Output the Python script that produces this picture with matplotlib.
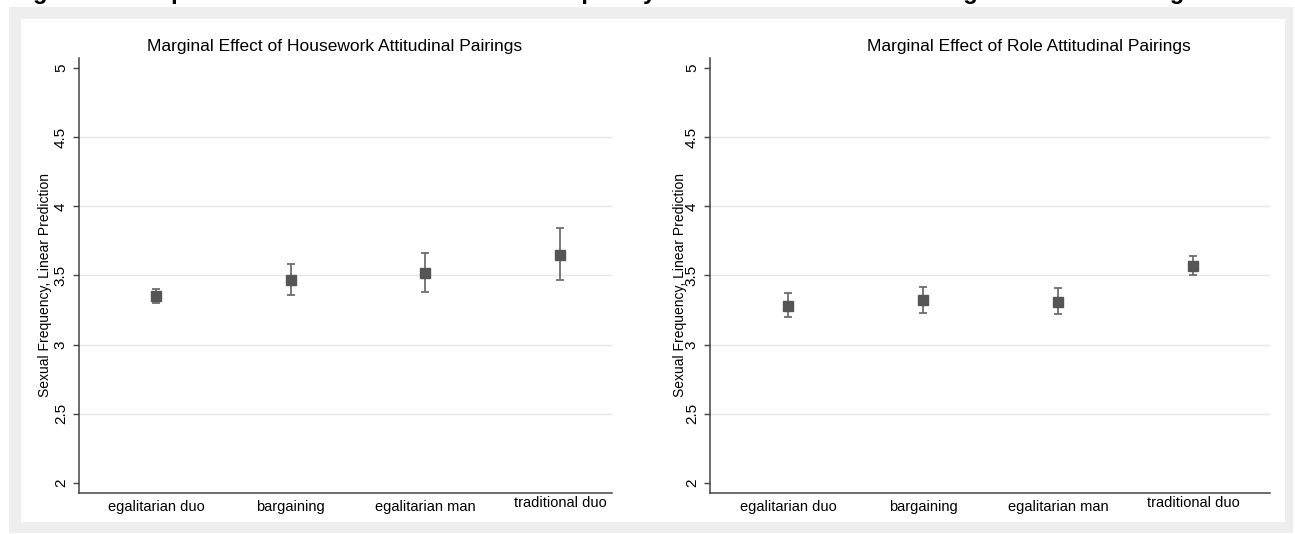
import matplotlib.pyplot as plt
from matplotlib.patches import Rectangle

plt.rcParams['font.family'] = ['Liberation Sans', 'DejaVu Sans']

# data
categories = ["egalitarian duo", "bargaining", "egalitarian man", "traditional duo"]

house_est = [3.35, 3.47, 3.52, 3.65]
house_lo = [3.30, 3.36, 3.38, 3.47]
house_hi = [3.40, 3.58, 3.66, 3.84]

role_est = [3.28, 3.32, 3.31, 3.57]
role_lo = [3.20, 3.23, 3.22, 3.50]
role_hi = [3.37, 3.42, 3.41, 3.64]

yticks = [2, 2.5, 3, 3.5, 4, 4.5, 5]
ytick_labels = ["2", "2.5", "3", "3.5", "4", "4.5", "5"]

W, H = 1295, 534
fig = plt.figure(figsize=(W / 100, H / 100), dpi=100)

# gray frame around the white panel
fig.patches.append(Rectangle((9 / W, 1 / H), 1284 / W, 526 / H, transform=fig.transFigure,
                             facecolor="#eeeeee", edgecolor="none", zorder=-5))
fig.patches.append(Rectangle((21 / W, 12 / H), 1264 / W, 503 / H, transform=fig.transFigure,
                             facecolor="white", edgecolor="none", zorder=-4))

# cut-off figure caption at the very top (only descenders show, as in the source)
fig.text(12 / W, 1 + 1.5 / H, "Figure 3: Comparison of the Estimated Sexual Frequency between Housework Pairings and Role Pairings",
         fontsize=17, fontweight="bold", va="baseline", ha="left")


def panel(rect, est, lo, hi, xlim, title, title_x, ylab_x):
    ax = fig.add_axes(rect)
    ax.set_facecolor("none")
    x = list(range(1, len(categories) + 1))
    yerr = [[e - l for e, l in zip(est, lo)], [h - e for e, h in zip(est, hi)]]
    ax.errorbar(x, est, yerr=yerr, fmt="none", ecolor="#6e6e6e", elinewidth=1.3,
                capsize=3, capthick=1.3, zorder=3)
    ax.plot(x, est, "s", color="#555555", ms=7.5, zorder=4)
    for g in yticks[1:-1]:
        ax.axhline(g, color="#e6e6e6", lw=1, zorder=1)
    ax.set_xlim(*xlim)
    ax.set_ylim(1.928, 5.072)
    ax.set_xticks(x)
    ax.set_xticklabels(categories, fontsize=10.5)
    ax.tick_params(axis="x", length=0, pad=5)
    ax.xaxis.get_major_ticks()[3].set_pad(2)
    ax.set_yticks(yticks)
    ax.set_yticklabels(ytick_labels, rotation=90, va="center", fontsize=11)
    ax.tick_params(axis="y", length=4, width=1, color="#444444", pad=4)
    for s in ["top", "right"]:
        ax.spines[s].set_visible(False)
    for s in ["left", "bottom"]:
        ax.spines[s].set_color("#444444")
        ax.spines[s].set_linewidth(1.1)
    fig.text(title_x / W, 1 - 47 / H, title, fontsize=12.5, ha="center", va="center")
    fig.text(ylab_x / W, 1 - 285 / H, "Sexual Frequency, Linear Prediction", fontsize=10,
             rotation=90, ha="center", va="center")
    return ax


panel([79 / W, 41 / H, 533 / W, 435 / H], house_est, house_lo, house_hi, (0.428, 4.386),
      "Marginal Effect of Housework Attitudinal Pairings", 335, 45)
panel([710 / W, 41 / H, 560 / W, 435 / H], role_est, role_lo, role_hi, (0.422, 4.57),
      "Marginal Effect of Role Attitudinal Pairings", 1029, 680)

fig.savefig("out.png", dpi=100)
